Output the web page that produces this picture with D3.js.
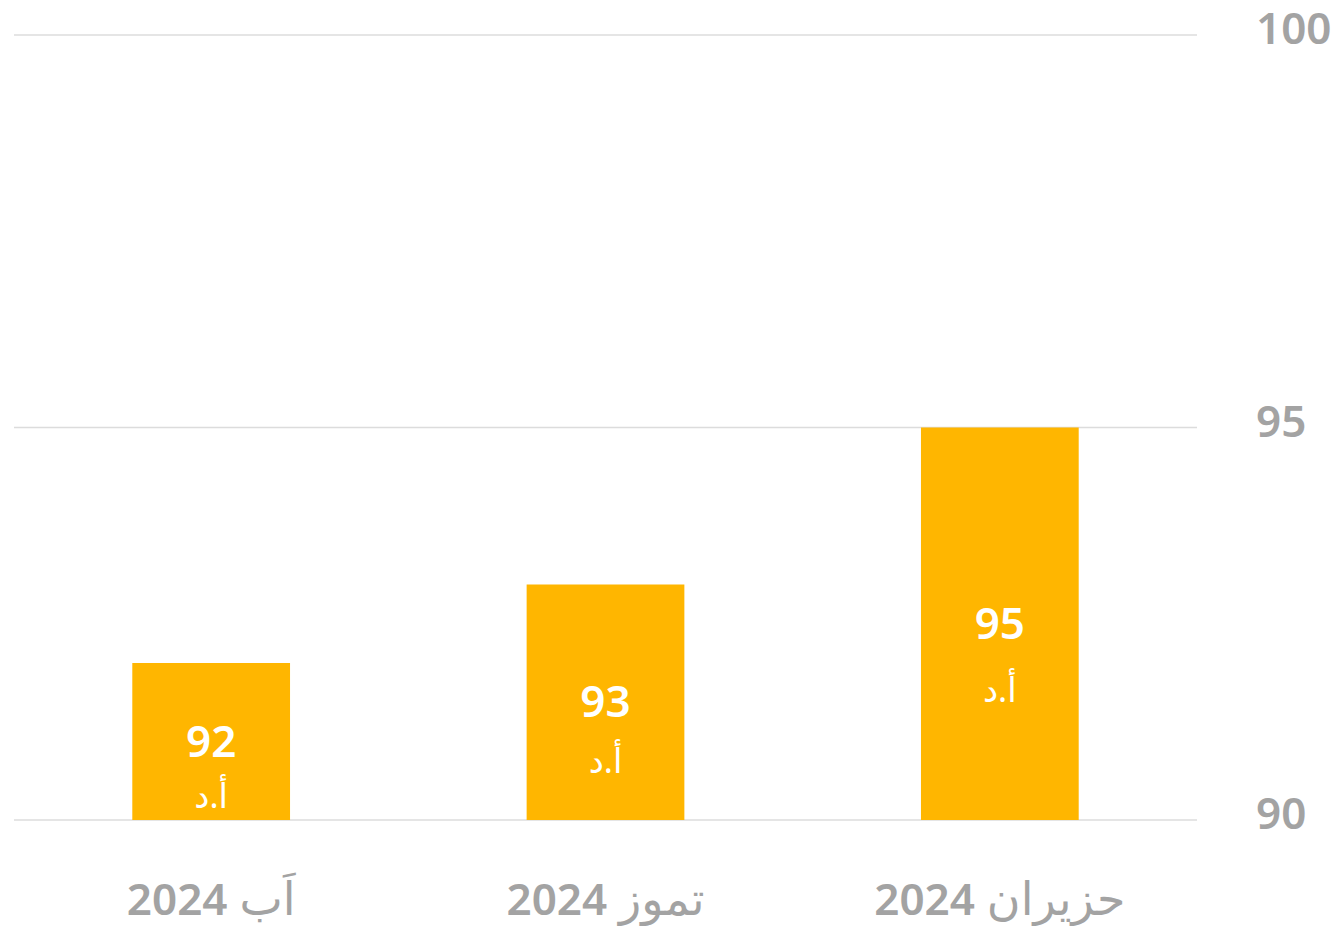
<!DOCTYPE html>
<html>
<head>
<meta charset="utf-8">
<style>
    body {
        margin: 0;
        background-color: #ffffff;
        font-family: "Noto Sans", "DejaVu Sans", sans-serif;
    }
    .grid line { stroke: #dcdcdc; stroke-width: 1.5; }
    .ytick { fill: #a3a3a3; font-size: 44px; font-weight: 600; }
    .xlabel { fill: #a3a3a3; font-size: 44px; }
    .xlabel .yr { font-weight: 600; }
    .xlabel .mon { font-weight: 400; font-size: 46px; }
    .value { fill: #ffffff; font-size: 44px; font-weight: 600; }
    .unit { fill: #ffffff; font-size: 34px; }
</style>
<script src="https://cdn.jsdelivr.net/npm/d3@7"></script>
</head>
<body>
<svg id="chart"></svg>
<script>
// months in chronological order (drawn right to left)
let months = ["حزيران", "تموز", "اَب"]
let year = "2024"
let values = [95, 93, 92]
let yTicks = [90, 95, 100]
let unitLabel = "أ.د"

let width = 1340
let height = 926

let svg = d3.select("#chart")
    .attr("width", width)
    .attr("height", height)

let y = d3.scaleLinear()
    .domain([90, 100])
    .range([820, 35])

let x = d3.scaleBand()
    .domain(months)
    .range([1197, 14])
    .paddingInner(0.6)
    .paddingOuter(0.3)

// gridlines
svg.append("g").attr("class", "grid")
    .selectAll("line").data(yTicks)
    .enter().append("line")
    .attr("x1", 14)
    .attr("x2", 1197)
    .attr("y1", d => y(d))
    .attr("y2", d => y(d))

// y tick labels on the right
svg.selectAll("text.ytick").data(yTicks)
    .enter().append("text")
    .attr("class", "ytick")
    .attr("x", 1256)
    .attr("y", d => y(d) + 9)
    .text(d => d)

let data = months.map((m, i) => ({month: m, value: values[i]}))

// bars
svg.selectAll("rect.bar").data(data)
    .enter().append("rect")
    .attr("class", "bar")
    .attr("x", d => x(d.month))
    .attr("width", x.bandwidth())
    .attr("y", d => y(d.value))
    .attr("height", d => y(90) - y(d.value))
    .attr("fill", "#ffb600")

// value labels, centred in the bar
svg.selectAll("text.value").data(data)
    .enter().append("text")
    .attr("class", "value")
    .attr("text-anchor", "middle")
    .attr("x", d => x(d.month) + x.bandwidth() / 2)
    .attr("y", d => (y(d.value) + y(90)) / 2 + 15)
    .text(d => d.value)

// currency under the value
svg.selectAll("text.unit").data(data)
    .enter().append("text")
    .attr("class", "unit")
    .attr("text-anchor", "middle")
    .attr("x", d => x(d.month) + x.bandwidth() / 2)
    .attr("y", d => {
        let h = y(90) - y(d.value)
        return (y(d.value) + y(90)) / 2 + 47 + 0.05 * h + 12
    })
    .text(unitLabel)

// month labels
let xl = svg.selectAll("text.xlabel").data(data)
    .enter().append("text")
    .attr("class", "xlabel")
    .attr("text-anchor", "middle")
    .attr("direction", "rtl")
    .attr("x", d => x(d.month) + x.bandwidth() / 2)
    .attr("y", 915)
xl.append("tspan").attr("class", "mon").text(d => d.month + " ")
xl.append("tspan").attr("class", "yr").text(year)
</script>
</body>
</html>
